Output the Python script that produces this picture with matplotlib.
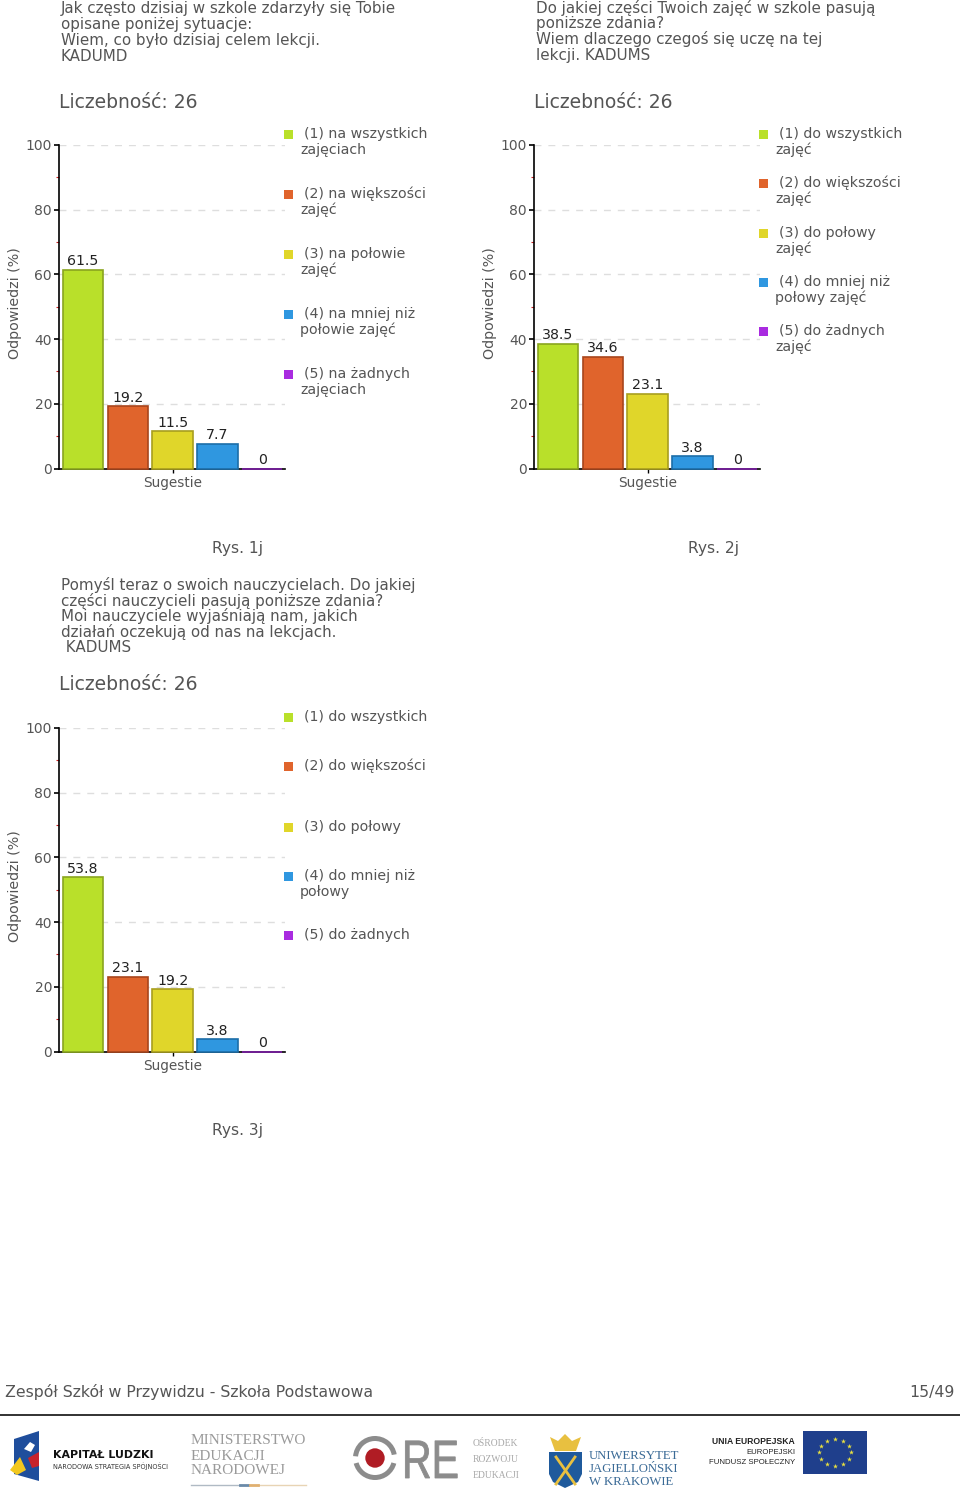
import matplotlib
matplotlib.use('Agg')
import matplotlib.pyplot as plt
from matplotlib.patches import Rectangle, Polygon, Circle, Wedge, PathPatch
from matplotlib.textpath import TextPath
from matplotlib.font_manager import FontProperties
from matplotlib.transforms import Affine2D

W, H = 960, 1503
GREY = '#555555'

# data
categories = ['1', '2', '3', '4', '5']
values_1j = [61.5, 19.2, 11.5, 7.7, 0]
values_2j = [38.5, 34.6, 23.1, 3.8, 0]
values_3j = [53.8, 23.1, 19.2, 3.8, 0]
bar_colors = ['#b9e02a', '#e0642c', '#e0d62a', '#2f97e0', '#a92be0']
edge_colors = ['#8aa51f', '#a8451c', '#a89e1f', '#1c6ea8', '#7d1fa8']
y_ticks = [0, 20, 40, 60, 80, 100]
minor_ticks = [10, 30, 50, 70, 90]

title_1j = ['Jak często dzisiaj w szkole zdarzyły się Tobie', 'opisane poniżej sytuacje:',
            'Wiem, co było dzisiaj celem lekcji.', 'KADUMD']
title_2j = ['Do jakiej części Twoich zajęć w szkole pasują', 'poniższe zdania?',
            'Wiem dlaczego czegoś się uczę na tej', 'lekcji. KADUMS']
title_3j = ['Pomyśl teraz o swoich nauczycielach. Do jakiej', 'części nauczycieli pasują poniższe zdania?',
            'Moi nauczyciele wyjaśniają nam, jakich', 'działań oczekują od nas na lekcjach.', ' KADUMS']
legend_1j = [['(1) na wszystkich', 'zajęciach'], ['(2) na większości', 'zajęć'], ['(3) na połowie', 'zajęć'],
             ['(4) na mniej niż', 'połowie zajęć'], ['(5) na żadnych', 'zajęciach']]
legend_2j = [['(1) do wszystkich', 'zajęć'], ['(2) do większości', 'zajęć'], ['(3) do połowy', 'zajęć'],
             ['(4) do mniej niż', 'połowy zajęć'], ['(5) do żadnych', 'zajęć']]
legend_3j = [['(1) do wszystkich'], ['(2) do większości'], ['(3) do połowy'],
             ['(4) do mniej niż', 'połowy'], ['(5) do żadnych']]
legend_y_1j = [134, 194, 254, 314, 374]
legend_y_2j = [134, 183, 233, 282, 331]
legend_y_3j = [717, 766, 827, 876, 935]

fig = plt.figure(figsize=(W / 100, H / 100), dpi=100, facecolor='white')

# overlay in pixel coordinates for the page furniture
page = fig.add_axes([0, 0, 1, 1], zorder=0)
page.set_xlim(0, W)
page.set_ylim(H, 0)
page.axis('off')


def draw_chart(left, top, zero, values, title, title_top, legend, legend_y, caption, caption_x, count_y):
    # title block
    for i, line in enumerate(title):
        page.text(left + 2, title_top + i * 15.7, line, fontsize=10.9, color=GREY, va='center')
    page.text(left, count_y, 'Liczebność: 26', fontsize=13.5, color=GREY, va='center')

    ax = fig.add_axes([left / W, 1 - zero / H, 226 / W, (zero - top) / H], zorder=1)
    ax.patch.set_alpha(0)
    ax.set_xlim(-0.536, 4.51)
    ax.set_ylim(0, 100)
    for y in y_ticks[1:]:
        ax.axhline(y, color='#dedede', lw=1, ls=(0, (5, 5)), zorder=1)
    ax.bar(range(len(values)), values, width=0.9, color=bar_colors, edgecolor=edge_colors, lw=1.2,
           zorder=3, clip_on=False)
    for i, v in enumerate(values):
        ax.text(i, v + 0.5, f'{v:g}', ha='center', va='bottom', fontsize=10.2, color='#222222', zorder=4)
    for s in ['top', 'right']:
        ax.spines[s].set_visible(False)
    ax.spines['left'].set_linewidth(1.2)
    ax.spines['bottom'].set_linewidth(1.2)
    ax.set_yticks(y_ticks)
    ax.set_yticks(minor_ticks, minor=True)
    ax.tick_params(axis='y', which='major', length=3.5, width=1.2, labelsize=10, labelcolor=GREY, pad=1.5)
    ax.tick_params(axis='y', which='minor', length=2.5, width=0.8, color='#cc2222')
    ax.set_xticks([2])
    ax.set_xticklabels(['Sugestie'], fontsize=9.8, color=GREY)
    ax.tick_params(axis='x', length=3, width=1, pad=2.5)
    ax.set_ylabel('Odpowiedzi (%)', fontsize=10.3, color=GREY, labelpad=0)
    ax.yaxis.set_label_coords(-0.165, 0.51)

    # legend
    for y, lines, c in zip(legend_y, legend, bar_colors):
        page.add_patch(Rectangle((left + 225, y - 4), 9, 9, color=c, lw=0))
        page.text(left + 245, y, lines[0], fontsize=10.2, color=GREY, va='center')
        if len(lines) > 1:
            page.text(left + 241, y + 16, lines[1], fontsize=10.2, color=GREY, va='center')

    page.text(caption_x, count_y + 446, caption, fontsize=11.2, color=GREY, ha='center', va='center')


draw_chart(59, 145, 468.5, values_1j, title_1j, 9, legend_1j, legend_y_1j, 'Rys. 1j', 238, 102)
draw_chart(534, 145, 468.5, values_2j, title_2j, 8, legend_2j, legend_y_2j, 'Rys. 2j', 713, 102)
draw_chart(59, 728, 1051.5, values_3j, title_3j, 585, legend_3j, legend_y_3j, 'Rys. 3j', 238, 685)

# footer
page.text(5, 1392, 'Zespół Szkół w Przywidzu - Szkoła Podstawowa', fontsize=11.3, color=GREY, va='center')
page.text(955, 1392, '15/49', fontsize=11.3, color=GREY, va='center', ha='right')
page.plot([0, 960], [1415, 1415], color='#222222', lw=1.3)

# Kapitał Ludzki logo
page.add_patch(Polygon([(14, 1439), (39, 1431), (39, 1481), (14, 1474)], color='#1f4e9c', lw=0))
page.add_patch(Polygon([(10, 1470), (20, 1457), (26, 1470), (17, 1475)], color='#f2c81e', lw=0))
page.add_patch(Polygon([(28, 1458), (39, 1452), (39, 1466), (32, 1468)], color='#c8242c', lw=0))
page.add_patch(Polygon([(24, 1449), (30, 1442), (35, 1445), (31, 1452)], color='white', lw=0))
page.text(53, 1455, 'KAPITAŁ LUDZKI', fontsize=7.9, fontweight='bold', color='#111111', va='center')
page.text(53, 1466, 'NARODOWA STRATEGIA SPÓJNOŚCI', fontsize=4.7, color='#333333', va='center')

# MEN logo
for y, s in zip([1441, 1456, 1471], ['MINISTERSTWO', 'EDUKACJI', 'NARODOWEJ']):
    page.text(191, y, s, fontsize=11, family='Liberation Serif', color='#9a9a9a', va='center')
page.plot([191, 240], [1485, 1485], color='#b0bac4', lw=1)
page.plot([258, 306], [1485, 1485], color='#e8d4b4', lw=1)
page.plot([240, 248], [1485, 1485], color='#6a8aa8', lw=2)
page.plot([250, 258], [1485, 1485], color='#e0b070', lw=2)

# ORE logo, letters squeezed to the logo's narrow shape
page.add_patch(Wedge((375, 1458), 22, 15, 165, width=5, color='#8c8c8c', lw=0))
page.add_patch(Wedge((375, 1458), 22, 185, 350, width=5, color='#8c8c8c', lw=0))
page.add_patch(Circle((375, 1458), 9.7, color='#b01c24', lw=0))
re_path = TextPath((0, 0), 'RE', size=54, prop=FontProperties(family='Liberation Sans'))
re_tf = Affine2D().scale(0.76, -1).translate(402, 1478) + page.transData
page.add_patch(PathPatch(re_path, transform=re_tf, color='#8c8c8c', lw=0.6))
for y, s in zip([1443, 1459, 1475], ['OŚRODEK', 'ROZWOJU', 'EDUKACJI']):
    page.text(473, y, s, fontsize=6.9, family='Liberation Serif', color='#a8a8a8', va='center')

# UJ logo
page.add_patch(Polygon([(549, 1452), (582, 1452), (582, 1474), (578, 1482), (565, 1488), (553, 1482), (549, 1474)],
                       color='#1f5a9c', lw=0))
page.add_patch(Polygon([(550, 1437), (558, 1441), (565, 1434), (572, 1441), (581, 1437), (576, 1451), (555, 1451)],
                       color='#e8c040', lw=0))
page.plot([556, 575], [1457, 1484], color='#e8c040', lw=2)
page.plot([575, 556], [1457, 1484], color='#e8c040', lw=2)
for y, s in zip([1456, 1469, 1482], ['UNIWERSYTET', 'JAGIELLOŃSKI', 'W KRAKOWIE']):
    page.text(589, y, s, fontsize=9.2, family='Liberation Serif', color='#3a6a96', va='center')

# EU logo
for y, s, w, fs in zip([1442, 1453, 1463], ['UNIA EUROPEJSKA', 'EUROPEJSKI', 'FUNDUSZ SPOŁECZNY'],
                       ['bold', 'normal', 'normal'], [6.2, 5.6, 5.6]):
    page.text(795, y, s, fontsize=fs, fontweight=w, color='#222222', va='center', ha='right', family='Liberation Sans')
page.add_patch(Rectangle((803, 1431), 64, 43, color='#1f3f8c', lw=0))
stars_x = [835, 843, 849, 851, 849, 843, 835, 827, 821, 819, 821, 827]
stars_y = [1439, 1441, 1446, 1452, 1459, 1464, 1466, 1464, 1459, 1452, 1446, 1441]
page.scatter(stars_x, stars_y, s=14, color='#e8e040', marker='*', lw=0)

fig.savefig('out.png', dpi=100)
